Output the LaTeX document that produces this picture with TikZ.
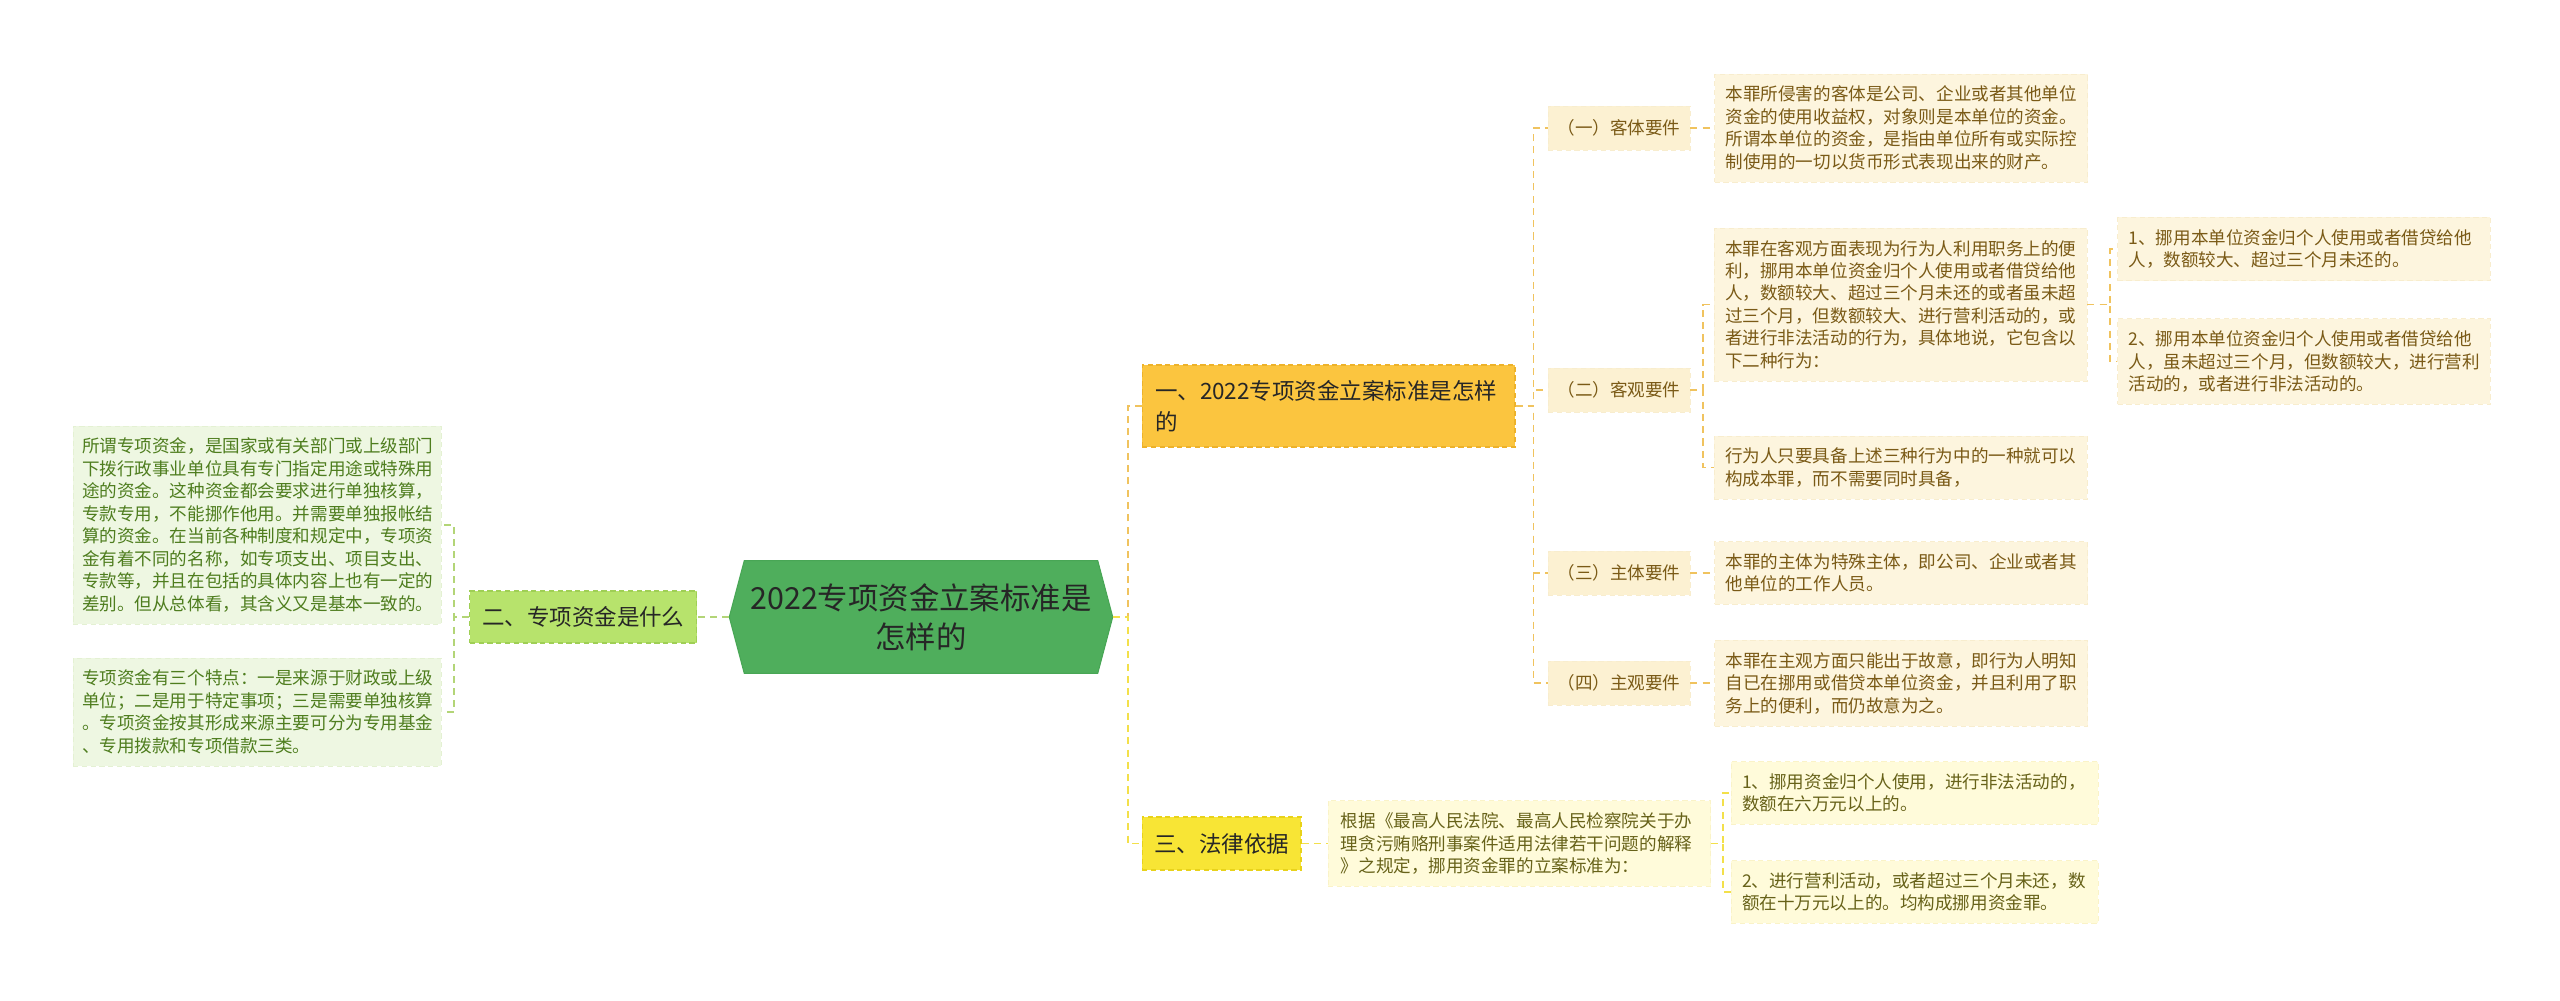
\documentclass[tikz,border=0pt]{standalone}
\usepackage{fontspec}
\setmainfont{Noto Sans CJK SC}
\usepackage{xcolor}
\usepackage{tikz}
\usetikzlibrary{positioning, calc, backgrounds}

\definecolor{rootfill}{HTML}{4FAE5C}
\definecolor{rootline}{HTML}{48A655}
\definecolor{goldfill}{HTML}{FBC53F}
\definecolor{goldline}{HTML}{EDB22A}
\definecolor{yelfill}{HTML}{F8E535}
\definecolor{yelline}{HTML}{E8D21A}
\definecolor{limefill}{HTML}{B7E36C}
\definecolor{limeline}{HTML}{9FCF55}
\definecolor{paleleaf}{HTML}{FDF5DE}
\definecolor{palesub}{HTML}{FCF1D2}
\definecolor{paleedge}{HTML}{F8EDCE}
\definecolor{palelaw}{HTML}{FFFBDA}
\definecolor{lawedge}{HTML}{FAF3C8}
\definecolor{palegrn}{HTML}{EEF7E2}
\definecolor{grnedge}{HTML}{E4F1D3}
\definecolor{browntext}{HTML}{7A5A16}
\definecolor{olivetext}{HTML}{676219}
\definecolor{grntext}{HTML}{4E7D1E}
\definecolor{goldlnk}{HTML}{F0C35E}
\definecolor{yellnk}{HTML}{F3E04A}
\definecolor{grnlnk}{HTML}{B3D577}

\begin{document}
\begin{tikzpicture}[x=0.02cm, y=-0.02cm,
    rootbox/.style={minimum width=7.0cm, minimum height=2.24cm, align=center,
                    text=black!85, font=\fontsize{17.3}{22}\selectfont},
    topic/.style={draw=#1line, fill=#1fill, dashed, line width=0.6pt,
                  dash pattern=on 3pt off 2pt, text=black!85,
                  font=\fontsize{12.8}{17.6}\selectfont},
    subbox/.style={draw=paleedge, fill=palesub, dashed, dash pattern=on 3pt off 2pt,
                   minimum width=2.84cm, minimum height=0.88cm, text=browntext,
                   font=\fontsize{10}{12.8}\selectfont},
    leaf/.style={draw=paleedge, fill=paleleaf, dashed, dash pattern=on 3pt off 2pt,
                 text width=7.02cm, inner xsep=0.22cm, inner ysep=0.24cm, align=left,
                 text=browntext, font=\fontsize{10}{12.8}\selectfont},
    lawleaf/.style={leaf, draw=lawedge, fill=palelaw, text=olivetext, text width=6.9cm},
    gleaf/.style={leaf, draw=grnedge, fill=palegrn, text=grntext, text width=7.0cm,
                  inner xsep=0.18cm},
    lnk/.style={draw=#1lnk, line width=1.1pt, dash pattern=on 4pt off 3pt}
]
\useasboundingbox (0,0) rectangle (2560,1001);

\node[rootbox] (root) at (921,617) {2022专项资金立案标准是\\怎样的};
\coordinate (rootW) at ([xshift=-0.3cm]root.west);
\coordinate (rootE) at ([xshift=0.3cm]root.east);
\begin{scope}[on background layer]
\filldraw[fill=rootfill, draw=rootline, line width=0.6pt] (root.north west) -- (rootW) -- (root.south west)
    -- (root.south east) -- (rootE) -- (root.north east) -- cycle;
\end{scope}

\node[topic=lime, minimum width=4.54cm, minimum height=1.04cm, left=0.64cm of rootW] (what) {二、专项资金是什么};
\node[gleaf] (def) at (257,525) {所谓专项资金，是国家或有关部门或上级部门\\下拨行政事业单位具有专门指定用途或特殊用\\途的资金。这种资金都会要求进行单独核算，\\专款专用，不能挪作他用。并需要单独报帐结\\算的资金。在当前各种制度和规定中，专项资\\金有着不同的名称，如专项支出、项目支出、\\专款等，并且在包括的具体内容上也有一定的\\差别。但从总体看，其含义又是基本一致的。};
\node[gleaf] (trait) at (257,712) {专项资金有三个特点：一是来源于财政或上级\\单位；二是用于特定事项；三是需要单独核算\\。专项资金按其形成来源主要可分为专用基金\\、专用拨款和专项借款三类。};

\node[topic=gold, text width=6.94cm, inner xsep=0.26cm, minimum height=1.64cm, align=left] (std) at (1328.5,406) {一、2022专项资金立案标准是怎样\\的};
\node[topic=yel, minimum width=3.18cm, minimum height=1.06cm] (law) at (1221.5,843.5) {三、法律依据};

\node[subbox] (obj) at (1619,128) {（一）客体要件};
\node[subbox] (act) at (1619,390) {（二）客观要件};
\node[subbox] (subj) at (1619,573) {（三）主体要件};
\node[subbox] (mind) at (1619,683) {（四）主观要件};

\node[leaf, right=0.48cm of obj] (objtxt) {本罪所侵害的客体是公司、企业或者其他单位\\资金的使用收益权，对象则是本单位的资金。\\所谓本单位的资金，是指由单位所有或实际控\\制使用的一切以货币形式表现出来的财产。};
\node[leaf] (acttxt) at (1900.5,304.5) {本罪在客观方面表现为行为人利用职务上的便\\利，挪用本单位资金归个人使用或者借贷给他\\人，数额较大、超过三个月未还的或者虽未超\\过三个月，但数额较大、进行营利活动的，或\\者进行非法活动的行为，具体地说，它包含以\\下二种行为：};
\node[leaf] (actone) at (1900.5,467.5) {行为人只要具备上述三种行为中的一种就可以\\构成本罪，而不需要同时具备，};
\node[leaf] (acta) at (2304,249) {1、挪用本单位资金归个人使用或者借贷给他\\人，数额较大、超过三个月未还的。};
\node[leaf] (actb) at (2304,361.5) {2、挪用本单位资金归个人使用或者借贷给他\\人，虽未超过三个月，但数额较大，进行营利\\活动的，或者进行非法活动的。};
\node[leaf, right=0.48cm of subj] (subjtxt) {本罪的主体为特殊主体，即公司、企业或者其\\他单位的工作人员。};
\node[leaf, right=0.48cm of mind] (mindtxt) {本罪在主观方面只能出于故意，即行为人明知\\自已在挪用或借贷本单位资金，并且利用了职\\务上的便利，而仍故意为之。};

\node[lawleaf, text width=7.14cm, inner xsep=0.26cm, right=0.52cm of law] (lawtxt) {根据《最高人民法院、最高人民检察院关于办\\理贪污贿赂刑事案件适用法律若干问题的解释\\》之规定，挪用资金罪的立案标准为：};
\node[lawleaf] (lawa) at (1914.5,793) {1、挪用资金归个人使用，进行非法活动的，\\数额在六万元以上的。};
\node[lawleaf] (lawb) at (1914.5,892) {2、进行营利活动，或者超过三个月未还，数\\额在十万元以上的。均构成挪用资金罪。};

\draw[lnk=grn] (rootW) -- (what.east);
\draw[lnk=grn] (what.west) -- ++(-15,0) |- (def.east);
\draw[lnk=grn] (what.west) -- ++(-15,0) |- (trait.east);
\draw[lnk=gold] (rootE) -- ++(15,0) |- (std.west);
\draw[lnk=yel] (rootE) -- ++(15,0) |- (law.west);
\foreach \k in {obj,act,subj,mind}
  \draw[lnk=gold] (std.east) -- ++(18,0) |- (\k.west);
\draw[lnk=gold] (obj.east) -- (obj.east -| objtxt.west);
\draw[lnk=gold] (subj.east) -- (subj.east -| subjtxt.west);
\draw[lnk=gold] (mind.east) -- (mind.east -| mindtxt.west);
\foreach \t in {acttxt,actone}
  \draw[lnk=gold] (act.east) -- ++(13,0) |- (\t.west);
\foreach \t in {acta,actb}
  \draw[lnk=gold] (acttxt.east) -- ++(23,0) |- (\t.west);
\draw[lnk=yel] (law.east) -- (lawtxt.west);
\foreach \t in {lawa,lawb}
  \draw[lnk=yel] (lawtxt.east) -- ++(12,0) |- (\t.west);
\end{tikzpicture}
\end{document}
